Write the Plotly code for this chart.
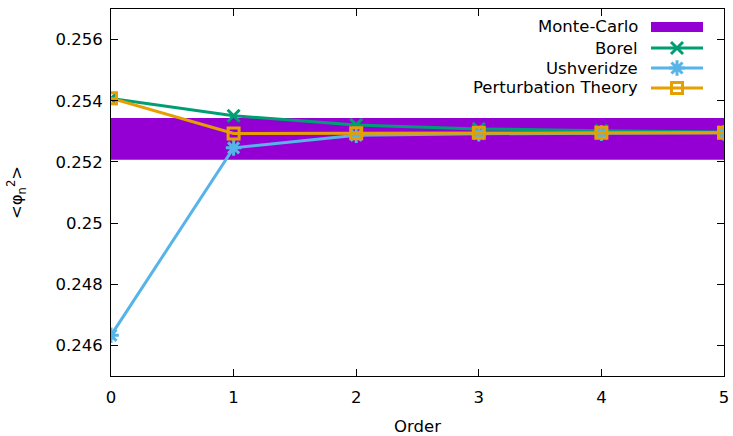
import plotly.graph_objects as go

order = [0, 1, 2, 3, 4, 5]
borel = [0.25407, 0.25351, 0.25321, 0.25308, 0.25302, 0.25298]
ushveridze = [0.24633, 0.25246, 0.25287, 0.25292, 0.25294, 0.25295]
perturbation = [0.25408, 0.25293, 0.25294, 0.25295, 0.25295, 0.25295]
mc_low, mc_high = 0.25207, 0.25344
y_ticks = [0.246, 0.248, 0.25, 0.252, 0.254, 0.256]
y_labels = ["0.246", "0.248", "0.25", "0.252", "0.254", "0.256"]

PURPLE = "#9400d3"
GREEN = "#009e73"
BLUE = "#56b4e9"
ORANGE = "#e69f00"
FONT = "DejaVu Sans"
FS = 16.5

fig = go.Figure()
fig.add_trace(go.Scatter(x=[order[0], order[-1], order[-1], order[0], order[0]],
                         y=[mc_low, mc_low, mc_high, mc_high, mc_low],
                         fill="toself", fillcolor=PURPLE, line=dict(width=0),
                         mode="lines", hoverinfo="skip"))
fig.add_trace(go.Scatter(x=order, y=borel, mode="lines+markers",
                         line=dict(color=GREEN, width=3),
                         marker=dict(symbol="x-thin", size=12, line=dict(color=GREEN, width=3))))
fig.add_trace(go.Scatter(x=order, y=ushveridze, mode="lines+markers",
                         line=dict(color=BLUE, width=3),
                         marker=dict(symbol="asterisk", size=13, line=dict(color=BLUE, width=3))))
fig.add_trace(go.Scatter(x=order, y=perturbation, mode="lines+markers",
                         line=dict(color=ORANGE, width=3),
                         marker=dict(symbol="square-open", size=11, color=ORANGE, line=dict(color=ORANGE, width=3))))

# custom gnuplot-style legend (text left, sample right)
L, R, T, B = 111, 724, 9, 376
def px(X): return (X - L) / (R - L)
def py(Y): return (B - Y) / (B - T)

names = ["Monte-Carlo", "Borel", "Ushveridze", "Perturbation Theory"]
rows = [27, 48, 68, 88]
for name, Y in zip(names, rows):
    fig.add_annotation(x=px(640), y=py(Y), xref="paper", yref="paper", text=name,
                       showarrow=False, xanchor="right", yanchor="middle",
                       font=dict(family=FONT, size=FS, color="black"))
fig.add_shape(type="rect", xref="paper", yref="paper", x0=px(651), x1=px(703),
              y0=py(22), y1=py(32), fillcolor=PURPLE, line=dict(width=0))
styles = [(GREEN, "x-thin", 12, "rgba(0,0,0,0)"), (BLUE, "asterisk", 13, "rgba(0,0,0,0)"),
          (ORANGE, "square-open", 11, ORANGE)]
for (c, sym, sz, mc), Y in zip(styles, rows[1:]):
    fig.add_trace(go.Scatter(x=[px(651), px(703)], y=[py(Y), py(Y)], mode="lines",
                             line=dict(color=c, width=3), xaxis="x2", yaxis="y2", hoverinfo="skip"))
    fig.add_trace(go.Scatter(x=[px(677)], y=[py(Y)], mode="markers",
                             marker=dict(symbol=sym, size=sz, color=mc, line=dict(color=c, width=3)),
                             xaxis="x2", yaxis="y2", hoverinfo="skip"))

axis_common = dict(showgrid=False, zeroline=False, showline=True, linecolor="black",
                   linewidth=1, mirror="allticks", ticks="inside", ticklen=7, automargin=False,
                   tickcolor="black", tickfont=dict(family=FONT, size=FS, color="black"))
fig.update_layout(
    width=733, height=436, showlegend=False,
    paper_bgcolor="white", plot_bgcolor="white",
    margin=dict(l=L, r=733 - R, t=T, b=436 - B, autoexpand=False),
    xaxis=dict(range=[0, 5], tickvals=order, ticktext=[str(o) for o in order],
               ticklabelstandoff=6,
               title=dict(text="Order", font=dict(family=FONT, size=FS, color="black"), standoff=16),
               **axis_common),
    yaxis=dict(range=[0.245, 0.257], tickvals=y_ticks, ticktext=y_labels,
               ticklabelstandoff=4,
               title=dict(text="&lt;φ<sub>n</sub><sup>2</sup>&gt;", font=dict(family=FONT, size=FS, color="black"), standoff=28),
               **axis_common),
    xaxis2=dict(range=[0, 1], overlaying="x", visible=False, automargin=False),
    yaxis2=dict(range=[0, 1], overlaying="y", visible=False, automargin=False),
)
fig.write_html("out.html", config={"displayModeBar": False},
               post_script="document.body.style.margin='0';document.body.style.overflow='hidden';")
